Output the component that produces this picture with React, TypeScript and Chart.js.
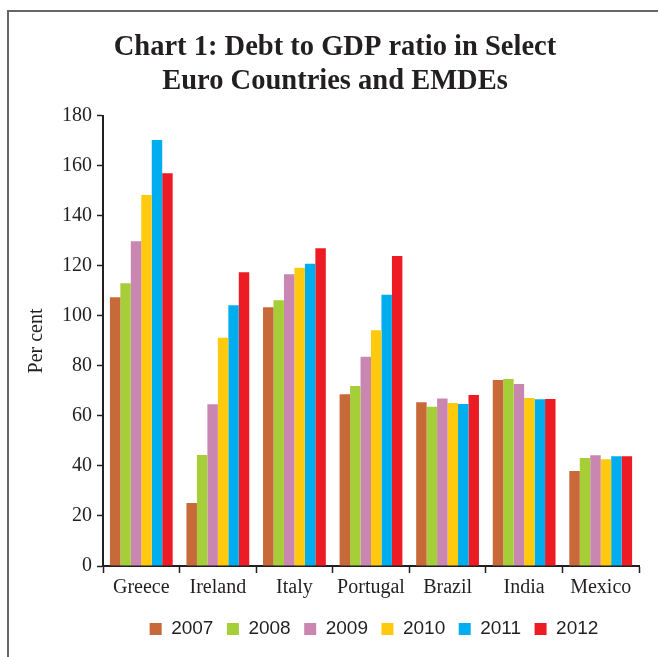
import React, { useEffect, useRef } from 'react';
import { Chart, registerables } from 'chart.js';

Chart.register(...registerables);

const categories = ['Greece', 'Ireland', 'Italy', 'Portugal', 'Brazil', 'India', 'Mexico'];
const years = ['2007', '2008', '2009', '2010', '2011', '2012'];
const colors = ['#C8693A', '#A6CE39', '#C986B0', '#FFC90E', '#00AEEF', '#ED1C24'];

const v2007 = [107.5, 25.2, 103.5, 68.7, 65.5, 74.4, 38.0];
const v2008 = [113.1, 44.4, 106.3, 72.0, 63.7, 74.8, 43.2];
const v2009 = [129.9, 64.7, 116.7, 83.7, 67.0, 72.8, 44.3];
const v2010 = [148.4, 91.3, 119.3, 94.3, 65.2, 67.2, 42.7];
const v2011 = [170.4, 104.3, 120.9, 108.5, 64.8, 66.7, 43.9];
const v2012 = [157.1, 117.5, 127.1, 124.0, 68.4, 66.8, 43.9];

const seriesValues = [v2007, v2008, v2009, v2010, v2011, v2012];

const titleLines = ['Chart 1: Debt to GDP ratio in Select', 'Euro Countries and EMDEs'];
const yAxisTitle = 'Per cent';
const yMin = 0;
const yMax = 180;
const yStep = 20;

const INK = '#231f20';

const alignPlugin = {
  id: 'alignLegendTitle',
  afterLayout(chart: any) {
    const ca = chart.chartArea;
    if (chart.legend) {
      chart.legend.left = ca.left + 3;
      chart.legend.right = ca.right + 3;
      chart.legend.width = ca.right - ca.left;
    }
    if (chart.titleBlock) {
      chart.titleBlock.left = 12;
      chart.titleBlock.right = 658;
      chart.titleBlock.width = 646;
    }
  },
};

export default function App() {
  const canvasRef = useRef<HTMLCanvasElement | null>(null);

  useEffect(() => {
    if (!canvasRef.current) return;
    const chart = new Chart(canvasRef.current, {
      type: 'bar',
      data: {
        labels: categories,
        datasets: years.map((y, i) => ({
          label: y,
          data: seriesValues[i],
          backgroundColor: colors[i],
          borderWidth: 0,
          categoryPercentage: 0.82,
          barPercentage: 1.0,
        })),
      },
      options: {
        responsive: false,
        animation: false,
        devicePixelRatio: 1,
        layout: { padding: { left: 0, right: 19, top: 0, bottom: 8.5 } },
        plugins: {
          title: {
            display: true,
            text: titleLines,
            color: INK,
            font: { family: '"Liberation Serif", serif', size: 28.5, weight: 'bold', lineHeight: 1.21 },
            padding: { top: 30, bottom: 17 },
          },
          legend: {
            display: true,
            position: 'bottom',
            labels: {
              boxWidth: 12,
              boxHeight: 12,
              padding: 13.5,
              color: INK,
              font: { family: '"Liberation Sans", sans-serif', size: 19 },
            },
          },
          tooltip: { enabled: false },
        },
        scales: {
          x: {
            afterFit: (scale: any) => {
              scale.height = 40;
            },
            grid: {
              drawOnChartArea: false,
              drawTicks: true,
              tickLength: 7,
              tickColor: INK,
              tickWidth: 1.5,
              color: INK,
              offset: true,
            },
            border: { display: true, color: INK, width: 2 },
            ticks: {
              color: INK,
              padding: 3,
              font: { family: '"Liberation Serif", serif', size: 20 },
            },
          },
          y: {
            min: yMin,
            max: yMax,
            afterFit: (scale: any) => {
              scale.width = 103;
            },
            grid: {
              drawOnChartArea: false,
              drawTicks: true,
              tickLength: 6,
              tickColor: INK,
              tickWidth: 1.5,
              color: INK,
            },
            border: { display: true, color: INK, width: 2 },
            ticks: {
              stepSize: yStep,
              color: INK,
              padding: 5,
              font: { family: '"Liberation Serif", serif', size: 20 },
            },
            title: {
              display: true,
              text: yAxisTitle,
              color: INK,
              font: { family: '"Liberation Serif", serif', size: 20 },
              padding: { top: 25, bottom: 0 },
            },
          },
        },
      },
      plugins: [alignPlugin],
    });
    return () => chart.destroy();
  }, []);

  return (
    <div style={{ position: 'absolute', left: 0, top: 0, width: 658, height: 657, background: '#fff' }}>
      <canvas ref={canvasRef} width={658} height={657} style={{ display: 'block' }} />
      <div
        style={{
          position: 'absolute',
          left: 7,
          top: 10,
          width: 651,
          height: 647,
          borderLeft: '2px solid #666',
          borderTop: '2px solid #666',
          boxSizing: 'border-box',
          pointerEvents: 'none',
        }}
      />
    </div>
  );
}
